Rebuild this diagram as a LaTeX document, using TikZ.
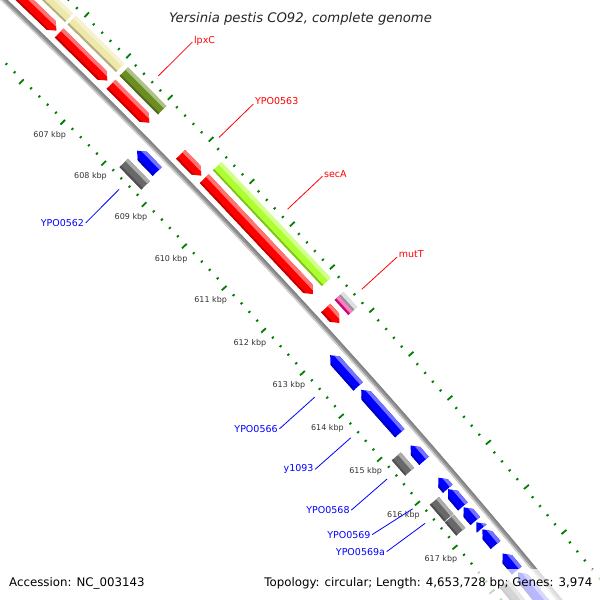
\documentclass[tikz,border=0pt]{standalone}
\usepackage{fontspec}
\setmainfont{DejaVu Sans}[ItalicFont={DejaVu Sans Oblique}]
\usepackage{tikz}

\definecolor{cdsred}{HTML}{FF0000}
\definecolor{cdsblue}{HTML}{0000FF}
\definecolor{cogkhaki}{HTML}{EEE8AA}
\definecolor{cogolive}{HTML}{6B8E23}
\definecolor{coglime}{HTML}{ADFF2F}
\definecolor{cogpink}{HTML}{FF1493}
\definecolor{cogsilver}{HTML}{C4C4C4}
\definecolor{coggrey}{HTML}{696969}
\definecolor{rulegreen}{HTML}{008000}
\definecolor{backbone}{HTML}{999999}
\definecolor{ticktext}{HTML}{333333}

\newcommand{\hd}{0.13}
\newcommand{\fwdpath}[5]{({ang(#1)}:#3) -- ({ang(max(#1,#2-\hd))}:#3) -- ({ang(#2)}:#4) -- ({ang(max(#1,#2-\hd))}:#5) -- ({ang(#1)}:#5) -- cycle}
\newcommand{\revpath}[5]{({ang(#1)}:#4) -- ({ang(min(#2,#1+\hd))}:#3) -- ({ang(#2)}:#3) -- ({ang(#2)}:#5) -- ({ang(min(#2,#1+\hd))}:#5) -- cycle}
\newcommand{\boxpath}[5]{({ang(#1)}:#3) -- ({ang(#2)}:#3) -- ({ang(#2)}:#5) -- ({ang(#1)}:#5) -- cycle}
\newcommand{\band}[4]{({ang(#1-0.3)}:#3) -- ({ang(#2+0.3)}:#3) -- ({ang(#2+0.3)}:#4) -- ({ang(#1-0.3)}:#4) -- cycle}
\newcommand{\feat}[6]{%
  \pgfmathsetmacro{\rmid}{(#4+#5)/2}%
  \pgfmathsetmacro{\rlo}{#4-1}%
  \pgfmathsetmacro{\rdk}{#4+2}%
  \pgfmathsetmacro{\rlt}{#5-3.5}%
  \pgfmathsetmacro{\rhi}{#5+1}%
  \begin{scope}
    \clip #1{#2}{#3}{#4}{\rmid}{#5};
    \fill[fill=#6] \band{#2}{#3}{\rlo}{\rhi};
    \fill[fill=#6!55!white] \band{#2}{#3}{\rlt}{\rhi};
    \fill[fill=#6!75!black] \band{#2}{#3}{\rlo}{\rdk};
  \end{scope}}

\begin{document}
\begin{tikzpicture}[x=1pt, y=1pt,
  declare function={ang(\kb)=42.7-0.5057*(\kb-612);},
  ruler/.style={rulegreen, line width=1.8pt},
  leader/.style={line width=0.8pt},
  kbp label/.style={text=ticktext, inner sep=0pt, font=\fontsize{8}{9}\selectfont},
  fwd label/.style={text=cdsred, anchor=base west, inner sep=0pt, font=\fontsize{9.5}{11}\selectfont},
  rev label/.style={text=cdsblue, anchor=east, inner sep=0pt, font=\fontsize{9.5}{11}\selectfont},
  legend/.style={inner sep=0pt, font=\fontsize{11.8}{14}\selectfont}]
\useasboundingbox (0,0) rectangle (600,-600);
\fill[white] (0,0) rectangle (600,-600);

\begin{scope}
\clip (0,0) rectangle (600,-600);
\begin{scope}[shift={(-4553.4,-4775.4)}]
\pgfmathsetmacro{\aA}{ang(601)}
\pgfmathsetmacro{\aB}{ang(622)}
\draw[backbone, line width=5pt] (\aA:6601.5) arc[start angle=\aA, end angle=\aB, radius=6601.5pt];
\draw[backbone!85!black, line width=1.5pt] (\aA:6603.2) arc[start angle=\aA, end angle=\aB, radius=6603.2pt];
\draw[backbone!45!white, line width=1.4pt] (\aA:6599.6) arc[start angle=\aA, end angle=\aB, radius=6599.6pt];

\foreach \s/\e in {604.5/605.82, 605.88/607.04, 607.13/608.06, 608.82/609.33, 609.40/612.12, 612.44/612.79}
  \feat{\fwdpath}{\s}{\e}{6609.5}{6622}{cdsred};
\foreach \s/\e/\col in {604.5/605.82/cogkhaki, 605.88/607.04/cogkhaki, 607.13/608.06/cogolive, 609.40/612.12/coglime}
  \feat{\boxpath}{\s}{\e}{6627.8}{6639.7}{\col};
\feat{\boxpath}{612.44}{612.79}{6627.8}{6633.75}{cogpink};
\feat{\boxpath}{612.44}{612.79}{6633.75}{6639.7}{cogsilver};

\foreach \s/\e in {608.25/608.75, 613.09/613.81, 613.89/614.89, 615.17/615.52, 615.90/616.15, 616.16/616.55, 616.57/616.88, 616.91/617.05, 617.07/617.42, 617.61/617.99, 618.03/619.6}
  \feat{\revpath}{\s}{\e}{6581}{6593.5}{cdsblue};
\foreach \s/\e in {608.24/608.78, 615.15/615.50, 616.16/616.54, 616.56/616.86, 618.03/619.6}
  \feat{\boxpath}{\s}{\e}{6563.3}{6575.2}{coggrey};

\foreach \i in {0,...,75} {
  \pgfmathsetmacro{\p}{605+0.2*\i}
  \pgfmathsetmacro{\tl}{mod(\i,5)==0 ? 6.5 : 2.5}
  \pgfmathsetmacro{\ro}{6645+\tl}
  \pgfmathsetmacro{\ri}{6558-\tl}
  \draw[ruler] ({ang(\p)}:6645) -- ({ang(\p)}:\ro);
  \draw[ruler] ({ang(\p)}:6558) -- ({ang(\p)}:\ri);
}
\foreach \k in {607,...,617}
  \node[kbp label] (kbp\k) at ({ang(\k)}:6536.3) {\k\ kbp};

\foreach \p/\txt in {607.60/lpxC, 609.07/YPO0563, 610.76/secA, 612.62/mutT} {
  \coordinate (\txt-a) at ({ang(\p)}:6655);
  \coordinate (\txt-b) at ({ang(\p)}:6703);
  \draw[cdsred, leader] (\txt-a) -- (\txt-b);
  \node[fwd label] (\txt) at ([shift={(1.5,-1)}]\txt-b) {\txt};
}
\foreach \p/\q/\txt in {608.51/608.52/YPO0562, 613.45/613.45/YPO0566, 614.39/614.39/y1093, 615.34/615.34/YPO0568, 616.02/615.90/YPO0569, 616.35/616.29/YPO0569a} {
  \coordinate (\txt-a) at ({ang(\p)}:6547.5);
  \coordinate (\txt-b) at ({ang(\q)}:6500);
  \draw[cdsblue, leader] (\txt-a) -- (\txt-b);
  \node[rev label] (\txt) at ([xshift=-1.5]\txt-b) {\txt};
}
\end{scope}
\end{scope}

\fill[white, opacity=0.72] (0,-568.5) rectangle (600,-600);
\node[inner sep=0pt, anchor=base, text=black!85, font=\itshape\fontsize{13.2}{15}\selectfont] (title) at (300.5,-22.7) {Yersinia pestis CO92, complete genome};
\node[legend, anchor=base west] (accession) at (9,-586.5) {Accession: NC\_003143};
\node[legend, anchor=base east] (stats) at (592.5,-586.5) {Topology: circular; Length: 4,653,728 bp; Genes: 3,974};
\end{tikzpicture}
\end{document}
